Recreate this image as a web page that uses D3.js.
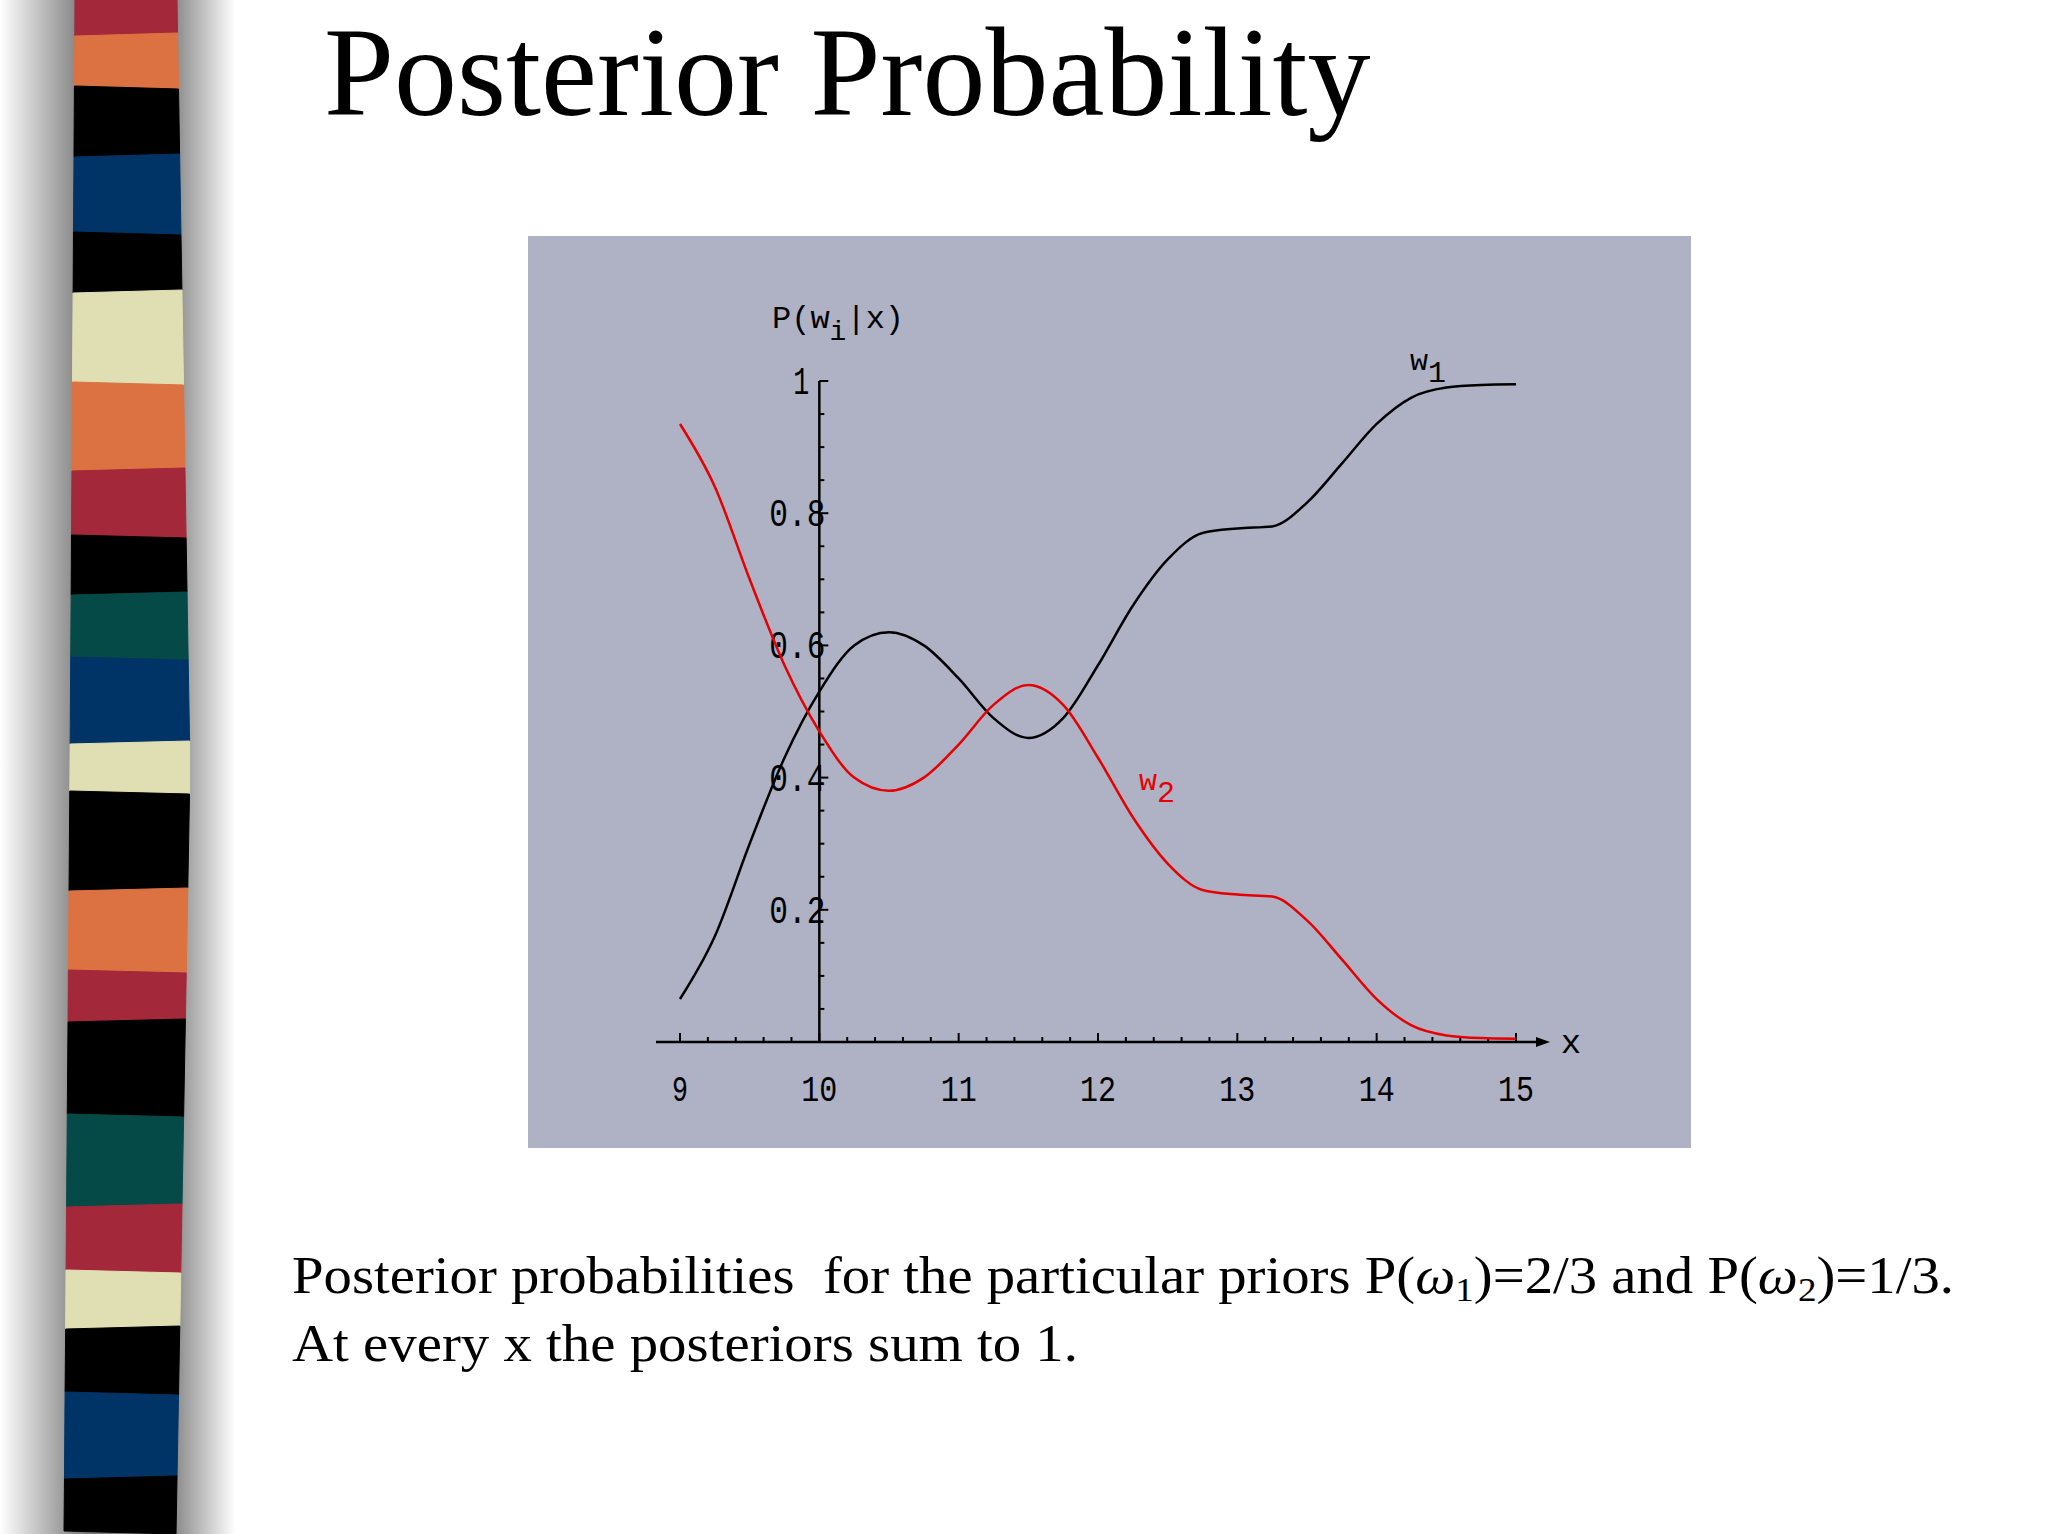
<!DOCTYPE html>
<html>
<head>
<meta charset="utf-8">
<script src="https://cdn.jsdelivr.net/npm/d3@7"></script>
<style>
  body { margin: 0; background: #fff; }
  svg { display: block; }
</style>
</head>
<body>
<svg id="slide" width="2048" height="1534"></svg>
<script>
// posterior values
var xs = [9, 9.25, 9.5, 9.75, 10, 10.25, 10.5, 10.75, 11, 11.25, 11.5, 11.75, 12,
  12.25, 12.5, 12.75, 13, 13.25, 13.5, 13.75, 14, 14.25, 14.5, 14.75, 15];
var w1 = [0.065, 0.16, 0.30, 0.43, 0.53, 0.60, 0.62, 0.60, 0.55, 0.49, 0.46, 0.49, 0.57,
  0.66, 0.73, 0.77, 0.777, 0.78, 0.816, 0.875, 0.935, 0.975, 0.99, 0.994, 0.995];
var w2 = [0.935, 0.84, 0.70, 0.57, 0.47, 0.40, 0.38, 0.40, 0.45, 0.51, 0.54, 0.51, 0.43,
  0.34, 0.27, 0.23, 0.223, 0.22, 0.184, 0.125, 0.065, 0.025, 0.01, 0.006, 0.005];
var xTicks = [9, 10, 11, 12, 13, 14, 15];
var yTicks = [0.2, 0.4, 0.6, 0.8, 1];

// decorative stripes on the left edge
var stripeEdges = [0, 33, 89, 154, 235, 290, 385, 468, 538, 592, 660, 741, 794, 888,
  973, 1019, 1117, 1204, 1273, 1326, 1395, 1476, 1534];
var stripeColors = ["#a3283a", "#dc7242", "#000", "#003366", "#000", "#e0dfb4", "#dc7242",
  "#a3283a", "#000", "#064a48", "#003366", "#e0dfb4", "#000", "#dc7242", "#a3283a", "#000",
  "#064a48", "#a3283a", "#e0dfb4", "#000", "#003366", "#000"];

var svg = d3.select("#slide");
var defs = svg.append("defs");
var g1 = defs.append("linearGradient").attr("id", "shadowL");
g1.append("stop").attr("offset", "0").attr("stop-color", "#fff");
g1.append("stop").attr("offset", "1").attr("stop-color", "#7a7a7a");
var g2 = defs.append("linearGradient").attr("id", "shadowR");
g2.append("stop").attr("offset", "0").attr("stop-color", "#8a8a8a");
g2.append("stop").attr("offset", "1").attr("stop-color", "#fff");
svg.append("rect").attr("x", 0).attr("y", 0).attr("width", 85).attr("height", 1534).attr("fill", "url(#shadowL)");
svg.append("rect").attr("x", 175).attr("y", 0).attr("width", 60).attr("height", 1534).attr("fill", "url(#shadowR)");

var leftEdge = d3.scaleLinear().domain([0, 767, 1534]).range([75, 70, 64]);
var rightEdge = d3.scaleLinear().domain([0, 767, 1534]).range([177, 190, 176]);
svg.append("rect").attr("x", 85).attr("y", 0).attr("width", 90).attr("height", 1534).attr("fill", "#7a7a7a");
stripeColors.forEach(function (c, i) {
  var y0 = stripeEdges[i], y1 = stripeEdges[i + 1];
  var ya = y0 + (i % 2 ? 3 : -3), yb = y1 + (i % 2 ? -3 : 3);
  svg.append("path")
    .attr("d", "M" + leftEdge(y0) + "," + ya + " L" + rightEdge(y0) + "," + y0 +
      " L" + rightEdge(y1) + "," + y1 + " L" + leftEdge(y1) + "," + yb + "Z")
    .attr("fill", c).attr("stroke", c).attr("stroke-width", 1);
});

var serif = "Liberation Serif, Times New Roman, serif";
var mono = "Liberation Mono, DejaVu Sans Mono, monospace";

// title
svg.append("text").attr("x", 324).attr("y", 115)
  .style("font-family", serif).style("font-size", "126px")
  .text("Posterior Probability");

// plot panel
svg.append("rect").attr("x", 528).attr("y", 236).attr("width", 1163).attr("height", 912).attr("fill", "#afb1c5");

var x = d3.scaleLinear().domain([9, 15]).range([680, 1516]);
var y = d3.scaleLinear().domain([0, 1]).range([1042, 381]);

// x axis
svg.append("line").attr("x1", 656).attr("x2", 1540).attr("y1", y(0)).attr("y2", y(0)).attr("stroke", "#000").attr("stroke-width", 2.5);
svg.append("path").attr("d", "M1536," + (y(0) - 5) + " L1550," + y(0) + " L1536," + (y(0) + 5) + "Z").attr("fill", "#000");
svg.append("text").attr("x", 1571).attr("y", y(0) + 11).attr("text-anchor", "middle")
  .style("font-family", mono).style("font-size", "34px").text("x");
d3.range(9, 15.001, 0.2).forEach(function (v) {
  var major = Math.abs(v - Math.round(v)) < 1e-6;
  svg.append("line").attr("x1", x(v)).attr("x2", x(v)).attr("y1", y(0)).attr("y2", y(0) - (major ? 9 : 5))
    .attr("stroke", "#000").attr("stroke-width", 2);
});
svg.selectAll(".xl").data(xTicks).enter().append("text")
  .attr("x", function (d) { return x(d); }).attr("y", 1101).attr("text-anchor", "middle")
  .style("font-family", mono).style("font-size", "36px")
  .attr("textLength", function (d) { return d < 10 ? 16 : 36; }).attr("lengthAdjust", "spacingAndGlyphs")
  .text(function (d) { return d; });

// y axis
svg.append("line").attr("x1", x(10)).attr("x2", x(10)).attr("y1", y(0)).attr("y2", y(1)).attr("stroke", "#000").attr("stroke-width", 2.5);
d3.range(0.05, 1.0001, 0.05).forEach(function (v) {
  var major = Math.abs(v * 5 - Math.round(v * 5)) < 1e-6;
  svg.append("line").attr("x1", x(10)).attr("x2", x(10) + (major ? 9 : 5)).attr("y1", y(v)).attr("y2", y(v))
    .attr("stroke", "#000").attr("stroke-width", 2);
});
svg.selectAll(".yl").data(yTicks).enter().append("text")
  .attr("x", function (d) { return d === 1 ? x(10) - 10 : x(10) + 6; })
  .attr("y", function (d) { return y(d) + 13; }).attr("text-anchor", "end")
  .style("font-family", mono).style("font-size", "38px")
  .attr("textLength", function (d) { return d === 1 ? 16 : 56; }).attr("lengthAdjust", "spacingAndGlyphs")
  .text(function (d) { return d === 1 ? "1" : d3.format(".1f")(d); });

svg.append("text").attr("x", 772).attr("y", 328).style("font-family", mono).style("font-size", "32px")
  .html('P(w<tspan dy="12" font-size="28">i</tspan><tspan dy="-12">|x)</tspan>');

// curves
var line = d3.line().x(function (d) { return x(d[0]); }).y(function (d) { return y(d[1]); }).curve(d3.curveMonotoneX);
svg.append("path").attr("d", line(d3.zip(xs, w1))).attr("fill", "none").attr("stroke", "#000").attr("stroke-width", 2.5);
svg.append("path").attr("d", line(d3.zip(xs, w2))).attr("fill", "none").attr("stroke", "#e60000").attr("stroke-width", 2.5);

svg.append("text").attr("x", 1410).attr("y", 370).style("font-family", mono).style("font-size", "30px")
  .html('w<tspan dy="12">1</tspan>');
svg.append("text").attr("x", 1139).attr("y", 790).attr("fill", "#e60000").style("font-family", mono).style("font-size", "30px")
  .html('w<tspan dy="12">2</tspan>');

// caption
svg.append("text").attr("x", 292).attr("y", 1293).style("font-family", serif).style("font-size", "52px")
  .style("white-space", "pre")
  .attr("textLength", 1662).attr("lengthAdjust", "spacingAndGlyphs")
  .html('Posterior probabilities  for the particular priors P(<tspan font-style="italic">ω</tspan><tspan dy="8" font-size="34">1</tspan><tspan dy="-8">)=2/3 and P(</tspan><tspan font-style="italic">ω</tspan><tspan dy="8" font-size="34">2</tspan><tspan dy="-8">)=1/3.</tspan>');
svg.append("text").attr("x", 292).attr("y", 1361).style("font-family", serif).style("font-size", "52px")
  .attr("textLength", 786).attr("lengthAdjust", "spacingAndGlyphs")
  .text("At every x the posteriors sum to 1.");
</script>
</body>
</html>
